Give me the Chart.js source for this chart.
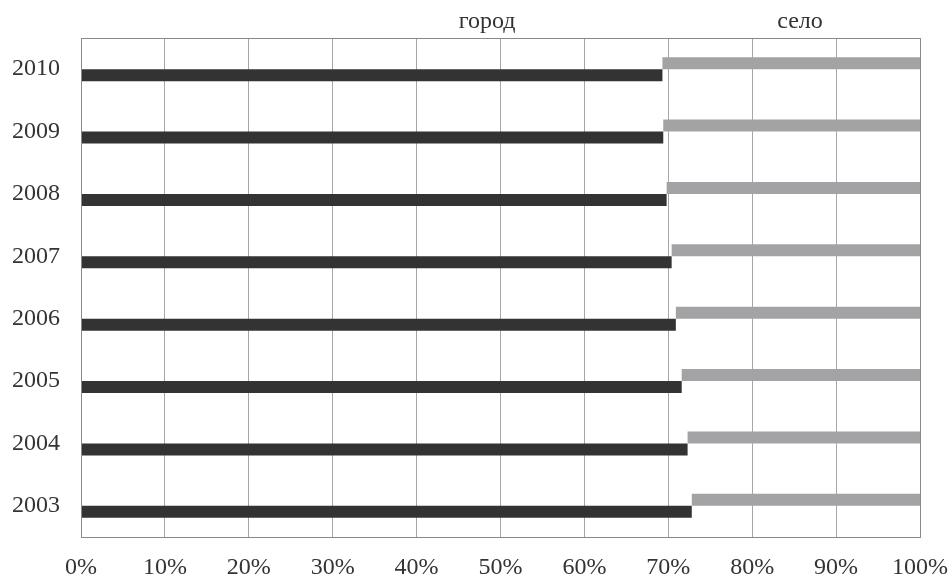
<!DOCTYPE html>
<html>
<head>
<meta charset="utf-8">
<script src="https://cdn.jsdelivr.net/npm/chart.js@4/dist/chart.umd.min.js"></script>
<style>
  html, body { margin: 0; padding: 0; background: #fff; }
  #wrap { width: 952px; height: 576px; }
</style>
</head>
<body>
<div id="wrap"><canvas id="shareChart"></canvas></div>
<script>
const years = ['2010', '2009', '2008', '2007', '2006', '2005', '2004', '2003'];
const cityShare = [69.3, 69.4, 69.8, 70.4, 70.9, 71.6, 72.3, 72.8];
const villageShare = [30.7, 30.6, 30.2, 29.6, 29.1, 28.4, 27.7, 27.2];
const xTicks = [0, 10, 20, 30, 40, 50, 60, 70, 80, 90, 100];

const seriesNames = ['город', 'село'];

const font = { family: "'Liberation Serif', 'DejaVu Serif', serif", size: 24 };
const textColor = '#333333';

// labels above the plot, no swatches
const topLabels = {
    id: 'topLabels',
    afterDraw(chart, args, opts) {
        const c = chart.ctx;
        const x = chart.scales.x;
        c.save();
        c.font = font.size + 'px ' + font.family;
        c.fillStyle = textColor;
        c.textAlign = 'center';
        c.textBaseline = 'middle';
        opts.items.forEach(it => {
            c.fillText(it.text, x.getPixelForValue(it.at), opts.y);
        });
        c.restore();
    }
};

// frame round the plot area
const frame = {
    id: 'frame',
    afterDatasetsDraw(chart) {
        const a = chart.chartArea;
        const c = chart.ctx;
        c.save();
        c.strokeStyle = '#8a8a8a';
        c.lineWidth = 1;
        c.strokeRect(Math.round(a.left) + 0.5, Math.round(a.top) + 0.5,
            Math.round(a.right - a.left), Math.round(a.bottom - a.top));
        c.restore();
    }
};

const ctx = document.getElementById('shareChart').getContext('2d');

new Chart(ctx, {
    type: 'bar',
    data: {
        labels: years,
        datasets: [
            {
                label: seriesNames[1],
                data: villageShare.map((v, i) => [cityShare[i], cityShare[i] + v]),
                backgroundColor: '#a3a3a5',
                borderWidth: 0
            },
            {
                label: seriesNames[0],
                data: cityShare,
                backgroundColor: '#333333',
                borderWidth: 0
            }
        ]
    },
    options: {
        indexAxis: 'y',
        responsive: true,
        maintainAspectRatio: false,
        animation: false,
        layout: { padding: { left: 0, right: 32, top: 38, bottom: 0 } },
        datasets: {
            bar: { categoryPercentage: 0.385, barPercentage: 1 }
        },
        plugins: {
            legend: { display: false },
            tooltip: { enabled: false },
            topLabels: {
                y: 22,
                items: [
                    { text: seriesNames[0], at: 48.4 },
                    { text: seriesNames[1], at: 85.7 }
                ]
            }
        },
        scales: {
            x: {
                min: 0,
                max: 100,
                afterBuildTicks: scale => {
                    scale.ticks = xTicks.map(v => ({ value: v }));
                },
                afterFit: scale => {
                    scale.height = 39;
                    scale.paddingLeft = 0;
                    scale.paddingRight = 0;
                },
                ticks: {
                    callback: v => v + '%',
                    font: font,
                    color: textColor,
                    padding: 16,
                    maxRotation: 0
                },
                grid: {
                    color: '#a6a6a6',
                    drawTicks: false
                },
                border: { display: false }
            },
            y: {
                afterFit: scale => { scale.width = 81; },
                ticks: {
                    font: font,
                    color: textColor,
                    padding: 21
                },
                grid: { display: false, drawTicks: false },
                border: { display: false }
            }
        }
    },
    plugins: [topLabels, frame]
});
</script>
</body>
</html>
